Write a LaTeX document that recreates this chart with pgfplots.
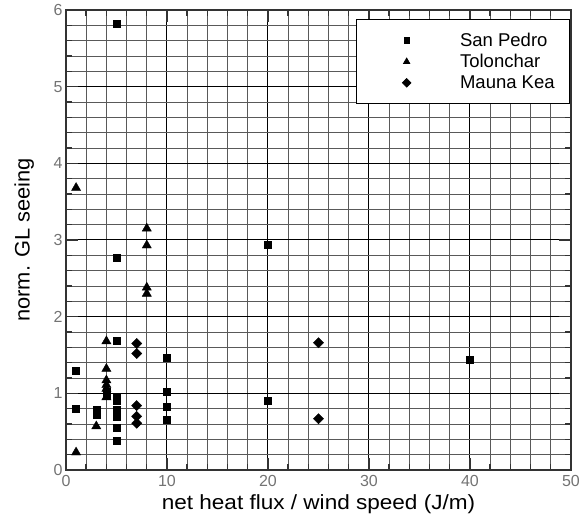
\documentclass[border=0pt]{standalone}
\usepackage{fontspec}
\setmainfont{Liberation Sans}
\newfontfamily\xlabfont[FakeStretch=1.1]{Liberation Sans}
\newfontfamily\ylabfont[FakeStretch=1.04]{Liberation Sans}
\usepackage{pgfplots}
\pgfplotsset{compat=1.18}
\pgfplotsset{leg/.style={legend image code/.code={\draw[##1, mark size=#1] plot coordinates {(0pt,0pt)}; \path (-36pt,0pt) (52pt,0pt);}}}
\begin{document}
\begin{tikzpicture}
\begin{axis}[
  scale only axis, width=505pt, height=460pt,
  xmin=0, xmax=50, ymin=0, ymax=6,
  xtick={0,10,...,50}, ytick={0,1,...,6},
  minor x tick num=4, minor y tick num=4,
  grid=both,
  major grid style={black, line width=1pt},
  minor grid style={black!65, line width=0.6pt},
  tick align=inside,
  major tick length=12pt, minor tick length=6pt,
  every tick/.style={black!80, line width=1.4pt},
  axis line style={black!80, line width=1.8pt},
  /pgf/number format/assume math mode=true,
  tick label style={font=\fontsize{16}{18}\selectfont, text=black!55},
  xticklabel style={yshift=-2pt},
  xlabel={net heat flux / wind speed (J/m)},
  ylabel={norm. GL seeing},
  every axis x label/.style={at={(axis description cs:0.5,0)}, anchor=center, yshift=-34pt, font=\xlabfont\fontsize{20.5}{24}\selectfont},
  every axis y label/.style={at={(axis description cs:-0.083,0.5)}, anchor=center, rotate=90, font=\ylabfont\fontsize{21}{24}\selectfont},
  legend style={at={(axis description cs:0.574,0.980)}, anchor=north west,
    draw=black, line width=0.8pt, fill=white,
    font=\fontsize{18.5}{21}\selectfont,
    inner xsep=14pt, inner ysep=12pt, row sep=4pt,
    nodes={inner sep=1pt, anchor=west, text depth=0.2em}},
  legend cell align=left,
]
\addplot[only marks, mark=square*, mark size=3.5pt, black, leg=2.6pt]
coordinates {
(1,1.30) (1,0.80) (3,0.78) (3,0.72) (4,0.97) (4,1.02)
(5,5.82) (5,2.77) (5,1.68) (5,0.96) (5,0.91) (5,0.78) (5,0.69) (5,0.55) (5,0.38)
(10,1.47) (10,1.02) (10,0.83) (10,0.66) (20,2.94) (20,0.90) (40,1.44)
};
\addlegendentry{San Pedro}
\addplot[only marks, mark=triangle*, mark size=5.3pt, black, leg=3.6pt]
coordinates {
(1,3.68) (1,0.23) (3,0.57) (4,1.68) (4,1.32) (4,1.17) (4,1.11) (4,1.06) (4,0.95)
(8,3.15) (8,2.93) (8,2.38) (8,2.30)
};
\addlegendentry{Tolonchar}
\addplot[only marks, mark=square*, mark options={rotate=45}, mark size=3.6pt, black, leg=3pt]
coordinates {
(7,1.65) (7,1.52) (7,0.84) (7,0.70) (7,0.61) (25,1.66) (25,0.67)
};
\addlegendentry{Mauna Kea}
\end{axis}
\pgfresetboundingbox
\path (-66pt,-46pt) rectangle (516pt,470pt);
\end{tikzpicture}
\end{document}
